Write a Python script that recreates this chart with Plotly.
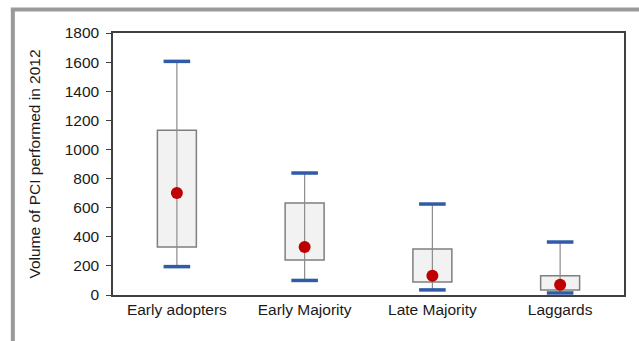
import plotly.graph_objects as go

categories = ["Early adopters", "Early Majority", "Late Majority", "Laggards"]
whisker_low = [195, 100, 35, 14]
q1 = [330, 240, 90, 35]
q3 = [1132, 632, 316, 132]
whisker_high = [1605, 838, 625, 364]
center = [700, 330, 132, 70]
y_ticks = [0, 200, 400, 600, 800, 1000, 1200, 1400, 1600, 1800]

fig = go.Figure()

fig.add_trace(go.Bar(
    x=categories,
    y=[h - l for h, l in zip(q3, q1)],
    base=q1,
    width=0.305,
    marker=dict(color="#F2F2F2", line=dict(color="#7F7F7F", width=1.5)),
    hoverinfo="skip",
))

wx, wy = [], []
for c, lo, hi in zip(categories, whisker_low, whisker_high):
    wx += [c, c, None]
    wy += [lo, hi, None]
fig.add_trace(go.Scatter(
    x=wx, y=wy, mode="lines",
    line=dict(color="#8C8C8C", width=1.2),
    hoverinfo="skip",
))

fig.add_trace(go.Scatter(
    x=categories + categories,
    y=whisker_low + whisker_high,
    mode="markers",
    marker=dict(symbol="line-ew", size=19, line=dict(color="#2F5BA7", width=3.5)),
    cliponaxis=False,
    hoverinfo="skip",
))

fig.add_trace(go.Scatter(
    x=categories, y=center, mode="markers",
    marker=dict(symbol="circle", size=12, color="#C00000"),
    cliponaxis=False,
))

# outer frame
fig.add_shape(type="line", xref="paper", yref="paper",
              x0=-0.196, x1=-0.196, y0=1.09, y1=-0.18,
              line=dict(color="#9A9A9A", width=4))
fig.add_shape(type="line", xref="paper", yref="paper",
              x0=-0.2, x1=1.1, y0=1.0895, y1=1.0895,
              line=dict(color="#9A9A9A", width=4))
fig.add_shape(type="line", xref="paper", yref="paper",
              x0=-0.2, x1=1.1, y0=-0.18, y1=-0.18,
              line=dict(color="#B0B0B0", width=1.5))

fig.update_layout(
    width=639, height=341,
    margin=dict(l=113, r=15, t=33, b=46),
    paper_bgcolor="white",
    plot_bgcolor="white",
    showlegend=False,
    font=dict(family="Liberation Sans, Arial, sans-serif", size=15.5, color="#1A1A1A"),
    bargap=0.5,
)
fig.update_xaxes(
    type="category",
    showline=True, linecolor="#404040", linewidth=1.5, mirror=True,
    showgrid=False, ticks="", tickfont=dict(size=15.5),
)
fig.update_yaxes(
    range=[0, 1800], tickvals=y_ticks,
    showline=True, linecolor="#404040", linewidth=1.5, mirror=True,
    showgrid=False, zeroline=False,
    ticks="outside", ticklen=5, tickcolor="#404040",
    ticklabelstandoff=4,
    title=dict(text="Volume of PCI performed in 2012", font=dict(size=15.5), standoff=20),
    tickfont=dict(size=15.5),
)

fig.write_html("out.html", config={"displayModeBar": False},
               post_script="document.body.style.margin='0';")
